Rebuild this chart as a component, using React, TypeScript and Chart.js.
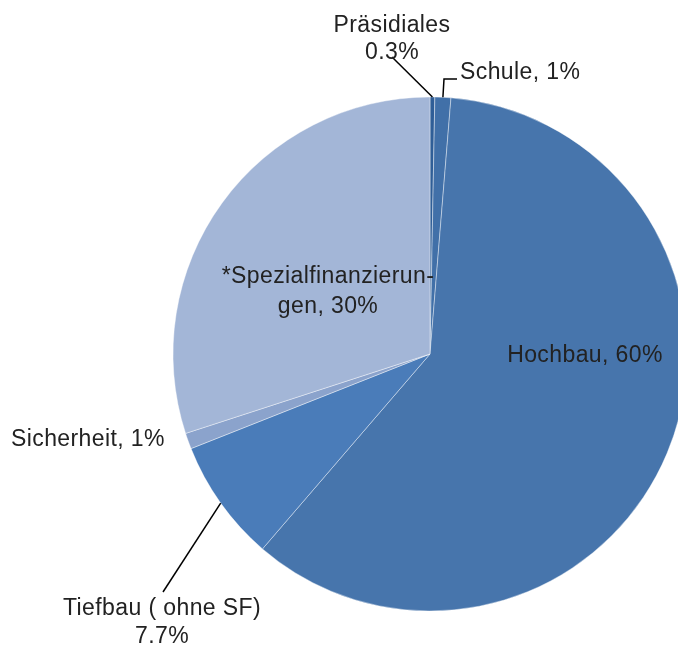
import React, { useEffect, useRef } from 'react';
import { Chart, registerables } from 'chart.js';

Chart.register(...registerables);

const categories = ['Präsidiales', 'Schule', 'Hochbau', 'Tiefbau ( ohne SF)', 'Sicherheit', '*Spezialfinanzierungen'];
const values = [0.3, 1, 60, 7.7, 1, 30];
const sliceColors = ['#2F5E97', '#4170A8', '#4775AC', '#4A7CB9', '#8BA3CC', '#A3B6D7'];

// label text lines per slice
const labelLines = [
  ['Präsidiales', '0.3%'],
  ['Schule, 1%'],
  ['Hochbau, 60%'],
  ['Tiefbau ( ohne SF)', '7.7%'],
  ['Sicherheit, 1%'],
  ['*Spezialfinanzierun-', 'gen, 30%'],
];

const FONT = '23px "Liberation Sans", Arial, sans-serif';
const TEXT_COLOR = '#222222';

// layout of labels relative to pie center (dx, dy of first baseline), alignment, leader polyline points relative to center
const labelLayout = [
  { dx: -38, dy: -322, align: 'center', lh: 27, leader: [[-38, -297]] },
  { dx: 30, dy: -275, align: 'left', lh: 27, leader: [[14, -275], [27, -275]] },
  { dx: 155, dy: 8, align: 'center', lh: 27, leader: null },
  { dx: -268, dy: 261, align: 'center', lh: 28, leader: [[-267, 238]] },
  { dx: -419, dy: 92, align: 'left', lh: 27, leader: null },
  { dx: -102, dy: -71, align: 'center', lh: 30, leader: null },
];

const labelPlugin = {
  id: 'sliceLabels',
  afterDatasetsDraw(chart: any) {
    const meta = chart.getDatasetMeta(0);
    const ctx = chart.ctx;
    ctx.save();
    ctx.font = FONT;
    try { (ctx as any).letterSpacing = '0.4px'; } catch (e) {}
    ctx.fillStyle = TEXT_COLOR;
    ctx.strokeStyle = '#000';
    ctx.lineWidth = 1.5;
    ctx.textBaseline = 'alphabetic';
    meta.data.forEach((arc: any, i: number) => {
      const { x, y, startAngle, endAngle, outerRadius } = arc.getProps(['x', 'y', 'startAngle', 'endAngle', 'outerRadius'], true);
      const lay = labelLayout[i];
      const lines = labelLines[i];
      if (lay.leader) {
        const mid = (startAngle + endAngle) / 2;
        ctx.beginPath();
        ctx.moveTo(x + Math.cos(mid) * outerRadius, y + Math.sin(mid) * outerRadius);
        lay.leader.forEach((p: number[]) => ctx.lineTo(x + p[0], y + p[1]));
        ctx.stroke();
      }
      ctx.textAlign = lay.align;
      lines.forEach((t: string, k: number) => {
        ctx.fillText(t, x + lay.dx, y + lay.dy + k * lay.lh);
      });
    });
    ctx.restore();
  },
};

export default function App() {
  const ref = useRef<HTMLCanvasElement | null>(null);
  useEffect(() => {
    if (!ref.current) return;
    const chart = new Chart(ref.current, {
      type: 'pie',
      data: {
        labels: categories,
        datasets: [
          {
            data: values,
            backgroundColor: sliceColors,
            borderColor: 'rgba(255,255,255,0.4)',
            borderWidth: 1,
            radius: 257,
            clip: false,
          } as any,
        ],
      },
      options: {
        responsive: false,
        animation: false,
        layout: { padding: { left: 182, top: 60, right: 0, bottom: 0 } },
        plugins: {
          legend: { display: false },
          tooltip: { enabled: false },
        },
      },
      plugins: [labelPlugin],
    });
    return () => chart.destroy();
  }, []);
  return (
    <div style={{ position: 'absolute', left: 0, top: 0, width: 678, height: 648, background: '#fff' }}>
      <canvas ref={ref} width={678} height={648} />
    </div>
  );
}
